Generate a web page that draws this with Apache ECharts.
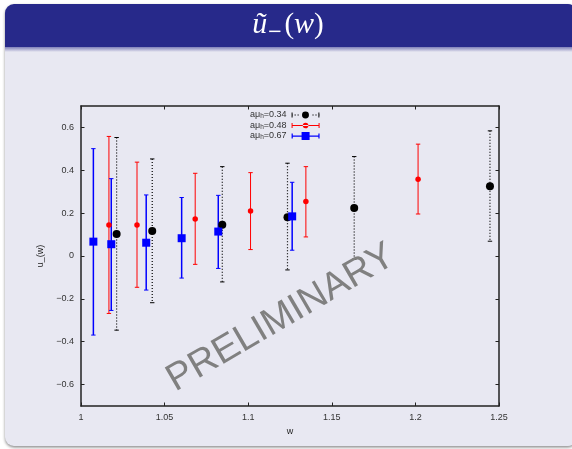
<!DOCTYPE html>
<html>
<head>
<meta charset="utf-8">
<script src="https://cdn.jsdelivr.net/npm/echarts@6/dist/echarts.min.js"></script>
<style>html,body{margin:0;padding:0;background:#fff}#c{width:572px;height:449px}</style>
</head>
<body>
<div id="c"></div>
<script>
// ---- data ----
const xTicks = [1, 1.05, 1.1, 1.15, 1.2, 1.25];
const yTicks = [-0.6, -0.4, -0.2, 0, 0.2, 0.4, 0.6];

const names = ['0.34', '0.48', '0.67'];

// amu_h = 0.34 (black, dotted)
const w034  = [1.0213, 1.0426, 1.0845, 1.1235, 1.1634, 1.2446];
const u034  = [0.103, 0.117, 0.146, 0.181, 0.224, 0.326];
const lo034 = [-0.346, -0.218, -0.121, -0.065, -0.015, 0.069];
const hi034 = [0.553, 0.453, 0.417, 0.433, 0.464, 0.584];

// amu_h = 0.48 (red)
const w048  = [1.0167, 1.0335, 1.0683, 1.1014, 1.1345, 1.2016];
const u048  = [0.145, 0.145, 0.173, 0.210, 0.254, 0.358];
const lo048 = [-0.268, -0.146, -0.039, 0.030, 0.089, 0.196];
const hi048 = [0.558, 0.438, 0.386, 0.389, 0.417, 0.522];

// amu_h = 0.67 (blue)
const w067  = [1.0074, 1.0181, 1.0390, 1.0602, 1.0821, 1.1263];
const u067  = [0.067, 0.055, 0.062, 0.083, 0.114, 0.185];
const lo067 = [-0.369, -0.254, -0.159, -0.103, -0.058, 0.027];
const hi067 = [0.501, 0.361, 0.285, 0.273, 0.283, 0.344];

// ---- chart ----
const chart = echarts.init(document.getElementById('c'), null, {renderer: 'canvas'});
const FONT = '"Liberation Sans", Arial, Helvetica, sans-serif';
const BG = '#e8e8f2';

function fmtNum(v) {
  const s = String(Math.round(v * 100) / 100);
  return s.replace('-', '\u2212');
}

function errSeries(name, xs, lo, hi, color, width, dash) {
  return {
    type: 'custom',
    name: name,
    color: color,
    xAxisIndex: 0, yAxisIndex: 0,
    data: xs.map((x, i) => [x, lo[i], hi[i]]),
    encode: {x: 0, y: [1, 2]},
    silent: true,
    z: 3,
    renderItem: function (params, api) {
      const x = api.value(0);
      const pTop = api.coord([x, api.value(2)]);
      const pBot = api.coord([x, api.value(1)]);
      const hw = 2.2;
      const style = {stroke: color, lineWidth: width, lineDash: dash || null, fill: null};
      return {
        type: 'group',
        children: [
          {type: 'line', shape: {x1: pTop[0], y1: pTop[1], x2: pBot[0], y2: pBot[1]}, style: style},
          {type: 'line', shape: {x1: pTop[0] - hw, y1: pTop[1], x2: pTop[0] + hw, y2: pTop[1]}, style: {stroke: color, lineWidth: 1}},
          {type: 'line', shape: {x1: pBot[0] - hw, y1: pBot[1], x2: pBot[0] + hw, y2: pBot[1]}, style: {stroke: color, lineWidth: 1}}
        ]
      };
    }
  };
}

function ptSeries(name, xs, ys, color, symbol, size) {
  return {
    type: 'scatter',
    name: name,
    color: color,
    xAxisIndex: 0, yAxisIndex: 0,
    data: xs.map((x, i) => [x, ys[i]]),
    symbol: symbol,
    symbolSize: size,
    itemStyle: {color: color, opacity: 1},
    silent: true,
    z: 4
  };
}

const legendNames = names.map(n => 'a\u03bc{sub|h}=' + n);

// legend icons: line with caps + marker (28 x 8)
let dots = '';
for (let i = 0; i < 28; i += 3) { if (i < 9 || i > 18) dots += 'M' + i + ',3.5h1.2v1h-1.2z '; }
const iconBlack = 'path://' + dots + 'M0,1.5h1v5h-1z M27,1.5h1v5h-1z M14,0.5a3.5,3.5 0 1,0 0.01,0z';
const iconRed = 'path://M0,3.5h28v1h-28z M0,1.5h1v5h-1z M27,1.5h1v5h-1z M14,1.2a2.8,2.8 0 1,0 0.01,0z';
const iconBlue = 'path://M0,3.5h28v1.2h-28z M0,1.5h1.2v5h-1.2z M26.8,1.5h1.2v5h-1.2z M10,0h8v8h-8z';

const option = {
  backgroundColor: '#ffffff',
  animation: false,
  graphic: [
    // slide panel
    {type: 'rect', z: -100, shape: {x: 5, y: 4, width: 572, height: 442, r: 9},
      style: {fill: BG, shadowBlur: 3, shadowColor: 'rgba(0,0,0,0.45)', shadowOffsetX: 0, shadowOffsetY: 1.5}},
    // title bar
    {type: 'rect', z: -99, shape: {x: 5, y: 4, width: 572, height: 43, r: [9, 9, 0, 0]},
      style: {fill: '#27298a'}},
    {type: 'rect', z: -99, shape: {x: 5, y: 47, width: 572, height: 5},
      style: {fill: new echarts.graphic.LinearGradient(0, 0, 0, 1, [
        {offset: 0, color: 'rgba(39,41,138,0.55)'}, {offset: 1, color: 'rgba(39,41,138,0)'}])}},
    // title
    {type: 'text', z: 10, x: 288, y: 25,
      style: {
        text: '{i|\u0169}{s|\u2212}{r|(}{i|w}{r|)}',
        textAlign: 'center', textVerticalAlign: 'middle',
        fill: '#ffffff',
        rich: {
          i: {fontFamily: '"Liberation Serif", "DejaVu Serif", serif', fontStyle: 'italic', fontSize: 30, fill: '#fff'},
          r: {fontFamily: '"Liberation Serif", "DejaVu Serif", serif', fontSize: 29, fill: '#fff'},
          s: {fontFamily: '"DejaVu Serif", serif', fontSize: 18, fill: '#fff', padding: [14, 2, 0, 0]}
        }
      }},
    // watermark
    {type: 'text', z: 100, x: 281, y: 318, rotation: 30.3 * Math.PI / 180,
      style: {text: 'PRELIMINARY', fontFamily: FONT, fontSize: 38, fill: '#808080',
        textAlign: 'center', textVerticalAlign: 'middle'}}
  ],
  grid: {left: 81, right: 73, top: 106, bottom: 43, show: false},
  legend: {
    left: 250, top: 110, padding: 0,
    orient: 'vertical', align: 'right',
    itemWidth: 28, itemHeight: 8, itemGap: 0.5,
    selectedMode: false,
    textStyle: {fontFamily: FONT, fontSize: 9, color: '#333', lineHeight: 8,
      rich: {sub: {fontFamily: FONT, fontSize: 6.5, color: '#333', lineHeight: 8, padding: [3, 0, 0, 0]}}},
    formatter: function (n) { return n; },
    data: [
      {name: legendNames[0], icon: iconBlack},
      {name: legendNames[1], icon: iconRed},
      {name: legendNames[2], icon: iconBlue}
    ]
  },
  xAxis: [
    {type: 'value', min: 1, max: 1.25, interval: 0.05, position: 'bottom',
      name: 'w', nameLocation: 'middle', nameGap: 21,
      nameTextStyle: {fontFamily: FONT, fontSize: 9, color: '#222'},
      axisLine: {show: true, onZero: false, lineStyle: {color: '#222', width: 1.5}},
      axisTick: {show: true, inside: true, length: 3.5, lineStyle: {color: '#222', width: 1}},
      axisLabel: {fontFamily: FONT, fontSize: 9, color: '#333', margin: 7,
        formatter: v => String(Math.round(v * 100) / 100)},
      splitLine: {show: false}},
    {type: 'value', min: 1, max: 1.25, interval: 0.05, position: 'top',
      axisLine: {show: true, onZero: false, lineStyle: {color: '#222', width: 1.5}},
      axisTick: {show: true, inside: true, length: 3.5, lineStyle: {color: '#222', width: 1}},
      axisLabel: {show: false}, splitLine: {show: false}}
  ],
  yAxis: [
    {type: 'value', min: -0.7, max: 0.7, position: 'left',
      name: 'u_(w)', nameLocation: 'middle', nameGap: 33, nameRotate: 90,
      nameTextStyle: {fontFamily: FONT, fontSize: 9, color: '#222'},
      axisLine: {show: true, onZero: false, lineStyle: {color: '#222', width: 1.5}},
      axisTick: {show: true, inside: true, length: 3.5, customValues: yTicks, lineStyle: {color: '#222', width: 1}},
      axisLabel: {fontFamily: FONT, fontSize: 9, color: '#333', margin: 7, customValues: yTicks,
        formatter: v => fmtNum(v)},
      splitLine: {show: false}},
    {type: 'value', min: -0.7, max: 0.7, position: 'right',
      axisLine: {show: true, onZero: false, lineStyle: {color: '#222', width: 1.5}},
      axisTick: {show: true, inside: true, length: 3.5, customValues: yTicks, lineStyle: {color: '#222', width: 1}},
      axisLabel: {show: false, customValues: yTicks}, splitLine: {show: false}}
  ],
  series: [
    errSeries(legendNames[0], w034, lo034, hi034, '#000000', 1.2, [1, 2]),
    errSeries(legendNames[1], w048, lo048, hi048, '#ff0000', 1, null),
    errSeries(legendNames[2], w067, lo067, hi067, '#0000ff', 1.5, null),
    ptSeries(legendNames[0], w034, u034, '#000000', 'circle', 8),
    ptSeries(legendNames[1], w048, u048, '#ff0000', 'circle', 5.5),
    ptSeries(legendNames[2], w067, u067, '#0000ff', 'rect', 8)
  ]
};
chart.setOption(option);
</script>
</body>
</html>
